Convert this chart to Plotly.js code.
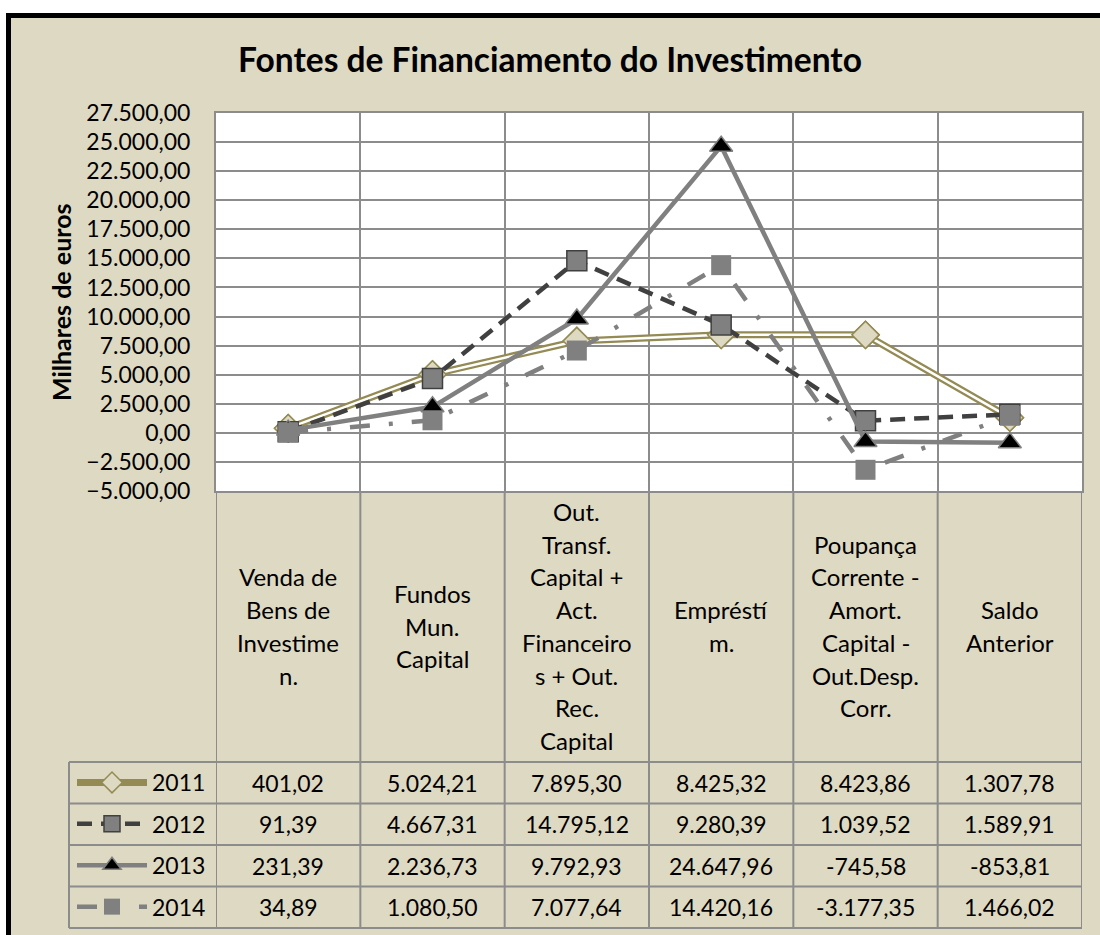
<!DOCTYPE html>
<html>
<head>
<meta charset="utf-8">
<script src="https://cdn.plot.ly/plotly-3.0.1.min.js"></script>
<style>html,body{margin:0;padding:0;background:#fff;}#chart{width:1100px;height:935px;}</style>
</head>
<body>
<div id="chart"></div>
<script>
// ---- data ----
const categories = [
  ["Venda de", "Bens de", "Investime", "n."],
  ["Fundos", "Mun.", "Capital"],
  ["Out.", "Transf.", "Capital +", "Act.", "Financeiro", "s + Out.", "Rec.", "Capital"],
  ["Empréstí", "m."],
  ["Poupança", "Corrente -", "Amort.", "Capital -", "Out.Desp.", "Corr."],
  ["Saldo", "Anterior"]
];
const years = ["2011", "2012", "2013", "2014"];
const v2011 = [401.02, 5024.21, 7895.30, 8425.32, 8423.86, 1307.78];
const v2012 = [91.39, 4667.31, 14795.12, 9280.39, 1039.52, 1589.91];
const v2013 = [231.39, 2236.73, 9792.93, 24647.96, -745.58, -853.81];
const v2014 = [34.89, 1080.50, 7077.64, 14420.16, -3177.35, 1466.02];
const yTickStep = 2500;
const yMin = -5000, yMax = 27500;

// ---- layout helpers ----
const W = 1100, H = 935;
const L = 216, T = 113, PW = 866, PH = 378;
const px2x = p => (p - L) / PW;
const py2y = p => (T + PH - p) / PH;
const FONT = "Lato, 'Open Sans', sans-serif";
const GRID = "#8c8c8c";
const OLIVE = "#948A54";
const BEIGE = "#DDD9C3";

const idx = categories.map((c, i) => i);
const series = [v2011, v2012, v2013, v2014];

function fmt(v) {
  const neg = v < 0;
  const parts = Math.abs(v).toFixed(2).split(".");
  const intp = parts[0].replace(/\B(?=(\d{3})+(?!\d))/g, ".");
  return (neg ? "-" : "") + intp + "," + parts[1];
}

const traces = [
  {x: idx, y: v2011, name: years[0], mode: "lines+markers", legendgroup: "a",
   line: {color: OLIVE, width: 7},
   marker: {symbol: "diamond", size: 21, color: BEIGE, line: {color: OLIVE, width: 1.5}}},
  {x: idx, y: v2011, mode: "lines", showlegend: false, hoverinfo: "skip",
   line: {color: "#ffffff", width: 2.5}},
  {x: idx, y: v2011, mode: "markers", showlegend: false, hoverinfo: "skip",
   marker: {symbol: "diamond", size: 21, color: BEIGE, line: {color: OLIVE, width: 1.5}}},
  {x: idx, y: v2012, name: years[1], mode: "lines+markers", legendgroup: "b",
   line: {color: "#404040", width: 4.5, dash: "15px,9px"},
   marker: {symbol: "square", size: 20, color: "#808080", line: {color: "#404040", width: 1.5}}},
  {x: idx, y: v2013, name: years[2], mode: "lines+markers", legendgroup: "c",
   line: {color: "#808080", width: 4.5},
   marker: {symbol: "triangle-up", size: 20, color: "#000000", line: {color: "#808080", width: 1.5}}},
  {x: idx, y: v2014, name: years[3], mode: "lines+markers", legendgroup: "d",
   line: {color: "#808080", width: 4.5, dash: "20px,19px,4px,19px"},
   marker: {symbol: "square", size: 20, color: "#808080", line: {width: 0}}}
];

const shapes = [];
const annotations = [];

// white margin outside the frame + black frame
shapes.push({type: "rect", xref: "paper", yref: "paper", layer: "above",
  x0: px2x(-5), x1: px2x(W + 5), y0: py2y(-5), y1: py2y(13), fillcolor: "#fff", line: {width: 0}});
shapes.push({type: "rect", xref: "paper", yref: "paper", layer: "above",
  x0: px2x(-5), x1: px2x(6), y0: py2y(-5), y1: py2y(H + 5), fillcolor: "#fff", line: {width: 0}});
shapes.push({type: "line", xref: "paper", yref: "paper", layer: "above",
  x0: px2x(6), x1: px2x(W + 5), y0: py2y(15.5), y1: py2y(15.5), line: {color: "#000", width: 5}});
shapes.push({type: "line", xref: "paper", yref: "paper", layer: "above",
  x0: px2x(8.5), x1: px2x(8.5), y0: py2y(13), y1: py2y(H + 5), line: {color: "#000", width: 5}});

// data table grid
const tableBottom = 928, rowTop = 762, rowH = 41.5, legLeft = 69;
for (let i = 0; i <= categories.length; i++) {
  shapes.push({type: "line", xref: "x", yref: "paper", x0: i - 0.5, x1: i - 0.5,
    y0: py2y(T + PH), y1: py2y(tableBottom), line: {color: GRID, width: 2}});
}
for (let r = 0; r <= years.length; r++) {
  const yy = py2y(rowTop + r * rowH);
  shapes.push({type: "line", xref: "paper", yref: "paper", x0: px2x(legLeft), x1: 1,
    y0: yy, y1: yy, line: {color: GRID, width: 2}});
}
shapes.push({type: "line", xref: "paper", yref: "paper", x0: px2x(legLeft), x1: px2x(legLeft),
  y0: py2y(rowTop), y1: py2y(tableBottom), line: {color: GRID, width: 2}});

// category labels
const catCenter = 626, lineSp = 32.7;
categories.forEach((lines, i) => {
  lines.forEach((txt, k) => {
    annotations.push({xref: "x", yref: "paper", x: i, y: py2y(catCenter + (k - (lines.length - 1) / 2) * lineSp),
      text: txt, showarrow: false, xanchor: "center", yanchor: "middle",
      font: {family: FONT, size: 24, color: "#000"}});
  });
});

// table values
series.forEach((vals, r) => {
  vals.forEach((v, i) => {
    annotations.push({xref: "x", yref: "paper", x: i, y: py2y(rowTop + (r + 0.5) * rowH),
      text: fmt(v), showarrow: false, xanchor: "center", yanchor: "middle",
      font: {family: FONT, size: 23, color: "#000"}});
  });
});

// y-axis title
annotations.push({xref: "paper", yref: "paper", x: px2x(61), y: py2y(302), text: "Milhares de euros",
  textangle: -90, showarrow: false, xanchor: "center", yanchor: "middle",
  font: {family: FONT, size: 25, color: "#000", weight: "bold"}});

const layout = {
  width: W, height: H,
  margin: {l: L, r: W - L - PW, t: T, b: H - T - PH, pad: 0, autoexpand: false},
  paper_bgcolor: BEIGE,
  plot_bgcolor: "#ffffff",
  font: {family: FONT, color: "#000"},
  separators: ",.",
  title: {text: "<b>Fontes de Financiamento do Investimento</b>", x: 0.5, xanchor: "center",
    y: 1 - 60 / H, yanchor: "middle", font: {family: FONT, size: 33.5, color: "#000"}},
  showlegend: true,
  legend: {xref: "container", yref: "container", x: 72 / W, xanchor: "left",
    y: 1 - 761 / H, yanchor: "top",
    bgcolor: "rgba(0,0,0,0)", borderwidth: 0, tracegroupgap: 8.5,
    font: {family: FONT, size: 23, color: "#000"}, itemwidth: 70},
  xaxis: {range: [-0.5, categories.length - 0.5], tick0: -0.5, dtick: 1, showticklabels: false,
    showgrid: true, gridcolor: GRID, gridwidth: 2, zeroline: false,
    showline: true, mirror: true, linecolor: GRID, linewidth: 2, fixedrange: true},
  yaxis: {range: [yMin, yMax], tick0: 0, dtick: yTickStep, tickformat: ",.2f",
    showgrid: true, gridcolor: GRID, gridwidth: 2, zeroline: true, zerolinecolor: GRID, zerolinewidth: 2,
    showline: true, mirror: true, linecolor: GRID, linewidth: 2, ticks: "", ticklabelstandoff: 19,
    tickfont: {family: FONT, size: 23, color: "#000"}, fixedrange: true},
  shapes: shapes,
  annotations: annotations
};

Plotly.newPlot("chart", traces, layout, {displayModeBar: false, staticPlot: true});
</script>
</body>
</html>
